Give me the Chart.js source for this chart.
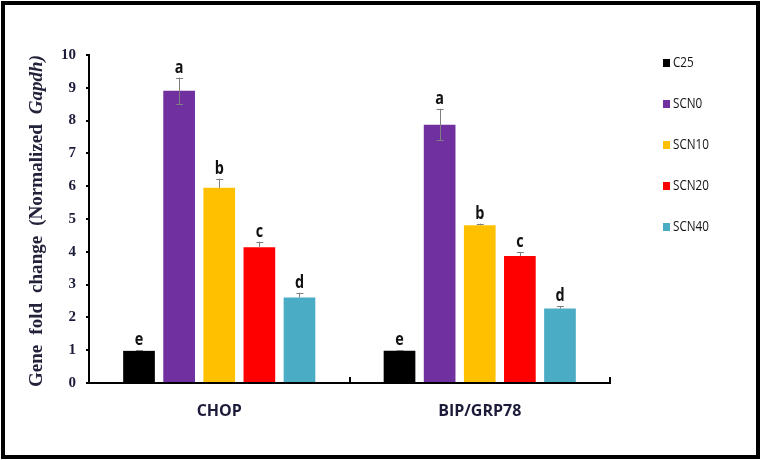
<!DOCTYPE html>
<html>
<head>
<meta charset="utf-8">
<script src="https://cdn.jsdelivr.net/npm/chart.js@4.4.0/dist/chart.umd.min.js"></script>
<style>
  html, body { margin: 0; padding: 0; background: #fff; }
</style>
</head>
<body>
<canvas id="chart" width="762" height="460"></canvas>
<script>
// ----- data -----
const genes = ["CHOP", "BIP/GRP78"];
const groups = ["C25", "SCN0", "SCN10", "SCN20", "SCN40"];
const colors = ["#000000", "#7030A0", "#FFC000", "#FF0000", "#4BACC6"];

const c25 = [0.98, 0.98];
const scn0 = [8.91, 7.87];
const scn10 = [5.95, 4.81];
const scn20 = [4.14, 3.87];
const scn40 = [2.61, 2.27];

// upper / lower error whiskers
const c25Err = [0.02, 0.02];
const scn0Err = [0.40, 0.49];
const scn10Err = [0.28, 0.05];
const scn20Err = [0.17, 0.12];
const scn40Err = [0.14, 0.08];
const scn0ErrLow = [0.41, 0.47];

// significance letters
const c25Sig = ["e", "e"];
const scn0Sig = ["a", "a"];
const scn10Sig = ["b", "b"];
const scn20Sig = ["c", "c"];
const scn40Sig = ["d", "d"];

const yTicks = [0, 1, 2, 3, 4, 5, 6, 7, 8, 9, 10];

const values = [c25, scn0, scn10, scn20, scn40];
const errUp = [c25Err, scn0Err, scn10Err, scn20Err, scn40Err];
const errLow = [[0, 0], scn0ErrLow, [0, 0], [0, 0], [0, 0]];
const sig = [c25Sig, scn0Sig, scn10Sig, scn20Sig, scn40Sig];

const navy = "#1c1c3a";

// error bars + letters on top of each bar
const errorBars = {
  id: "errorBars",
  afterDatasetsDraw(chart) {
    const ctx = chart.ctx;
    const y = chart.scales.y;
    ctx.save();
    values.forEach((vals, i) => {
      const meta = chart.getDatasetMeta(i);
      meta.data.forEach((bar, j) => {
        const v = vals[j];
        const top = y.getPixelForValue(v + errUp[i][j]);
        const bot = errLow[i][j] > 0 ? y.getPixelForValue(v - errLow[i][j]) : bar.y;
        ctx.strokeStyle = "#7f7f7f";
        ctx.lineWidth = 1;
        ctx.beginPath();
        ctx.moveTo(Math.round(bar.x) + 0.5, top);
        ctx.lineTo(Math.round(bar.x) + 0.5, bot);
        ctx.moveTo(bar.x - 3, Math.round(top) + 0.5);
        ctx.lineTo(bar.x + 4, Math.round(top) + 0.5);
        if (errLow[i][j] > 0) {
          ctx.moveTo(bar.x - 3, Math.round(bot) + 0.5);
          ctx.lineTo(bar.x + 4, Math.round(bot) + 0.5);
        }
        ctx.stroke();

        // letters are a bit tall/narrow in the original
        ctx.save();
        ctx.translate(bar.x, top - 5);
        ctx.scale(0.9, 1.15);
        ctx.fillStyle = "#111";
        ctx.font = "bold 16px 'Open Sans'";
        ctx.textAlign = "center";
        ctx.textBaseline = "alphabetic";
        ctx.fillText(sig[i][j], 0, 0);
        ctx.restore();
      });
    });
    ctx.restore();
  }
};

// legend, y title, frame
const decorations = {
  id: "decorations",
  afterDraw(chart) {
    const ctx = chart.ctx;
    ctx.save();

    // frame
    ctx.strokeStyle = "#000";
    ctx.lineWidth = 4;
    ctx.strokeRect(3, 3, 755, 454);

    // legend
    ctx.textBaseline = "middle";
    ctx.textAlign = "left";
    groups.forEach((g, i) => {
      const yy = 63 + 41 * i;
      ctx.fillStyle = colors[i];
      ctx.fillRect(663, yy - 4, 7, 8);
      ctx.save();
      ctx.translate(673, yy);
      ctx.scale(0.9, 1.15);
      ctx.font = "13px 'Open Sans'";
      ctx.fillStyle = "#111";
      ctx.fillText(g, 0, 0);
      ctx.restore();
    });

    // y title with italic gene name, stretched along its length
    const parts = [
      ["Gene", "bold 18px 'Liberation Serif'"],
      ["fold", "bold 18px 'Liberation Serif'"],
      ["change", "bold 18px 'Liberation Serif'"],
      ["(Normalized", "bold 18px 'Liberation Serif'"],
      ["Gapdh)", "italic bold 18px 'Liberation Serif'"]
    ];
    const total = 332;
    const gap = 10;
    let sum = 0;
    parts.forEach(p => { ctx.font = p[1]; sum += ctx.measureText(p[0]).width; });
    const sx = (total - gap * (parts.length - 1)) / sum;
    ctx.translate(42, 221);
    ctx.rotate(-Math.PI / 2);
    ctx.fillStyle = "#22223a";
    ctx.textBaseline = "alphabetic";
    let x = -total / 2;
    parts.forEach(p => {
      ctx.font = p[1];
      const w = ctx.measureText(p[0]).width * sx;
      ctx.save();
      ctx.translate(x, 0);
      ctx.scale(sx, 1);
      ctx.fillText(p[0], 0, 0);
      ctx.restore();
      x += w + gap;
    });
    ctx.restore();
  }
};

const ctx = document.getElementById("chart").getContext("2d");
new Chart(ctx, {
  type: "bar",
  data: {
    labels: genes,
    datasets: groups.map((g, i) => ({
      label: g,
      data: values[i],
      backgroundColor: colors[i],
      barPercentage: 0.79,
      categoryPercentage: 0.77
    }))
  },
  options: {
    responsive: false,
    animation: false,
    layout: { padding: { top: 55, right: 152, left: 0, bottom: 0 } },
    plugins: {
      legend: { display: false },
      tooltip: { enabled: false }
    },
    scales: {
      x: {
        afterFit(scale) { scale.height = 77; },
        grid: {
          display: true,
          drawOnChartArea: false,
          drawTicks: true,
          tickLength: -6,
          color: "#000",
          lineWidth: 2
        },
        border: { display: true, color: "#000", width: 2 },
        ticks: {
          padding: 25,
          color: navy,
          font: { family: "'Open Sans'", size: 16, weight: "bold" }
        }
      },
      y: {
        min: 0,
        max: 10,
        afterFit(scale) { scale.width = 89; },
        afterBuildTicks(scale) { scale.ticks = yTicks.map(v => ({ value: v })); },
        grid: {
          display: true,
          drawOnChartArea: false,
          drawTicks: true,
          tickLength: 3,
          color: "#000",
          lineWidth: 2
        },
        border: { display: true, color: "#000", width: 2 },
        ticks: {
          padding: 10,
          color: navy,
          font: { family: "'Liberation Serif'", size: 15, weight: "bold" }
        }
      }
    }
  },
  plugins: [errorBars, decorations]
});
</script>
</body>
</html>
